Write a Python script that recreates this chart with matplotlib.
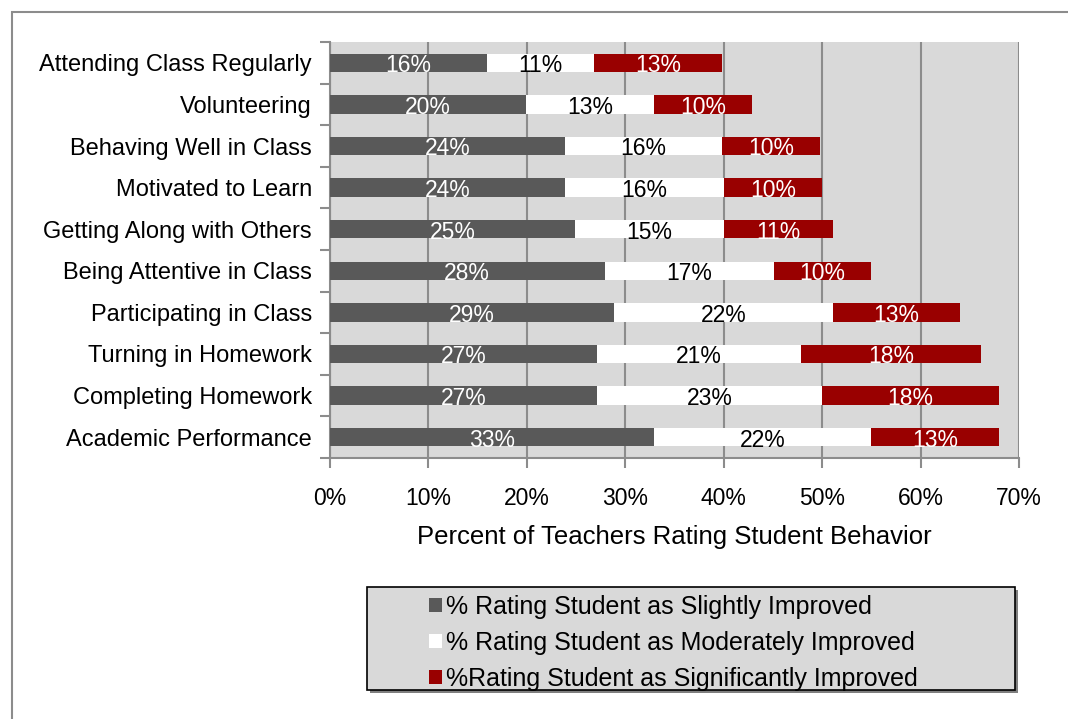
import matplotlib.pyplot as plt
from matplotlib.patches import Rectangle, Patch
import numpy as np

plt.rcParams["font.family"] = ["Liberation Sans", "DejaVu Sans"]

CATEGORIES = [
    "Attending Class Regularly", "Volunteering", "Behaving Well in Class",
    "Motivated to Learn", "Getting Along with Others", "Being Attentive in Class",
    "Participating in Class", "Turning in Homework", "Completing Homework",
    "Academic Performance",
]
SLIGHT = [15.9, 19.9, 23.9, 23.9, 24.9, 27.9, 28.9, 27.1, 27.1, 32.9]
MODERATE = [10.9, 13.0, 15.9, 16.1, 15.1, 17.2, 22.2, 20.8, 22.9, 22.1]
SIGNIF = [13.0, 10.0, 10.0, 10.0, 11.1, 9.9, 12.9, 18.2, 18.0, 13.0]
SERIES_NAMES = [
    "% Rating Student as Slightly Improved",
    "% Rating Student as Moderately Improved",
    "%Rating Student as Significantly Improved",
]
COLORS = ["#595959", "#ffffff", "#990000"]
TEXT_COLORS = ["white", "black", "white"]

W, H = 1068, 719
fig = plt.figure(figsize=(W / 100, H / 100), dpi=100)

# outer chart frame (cut off on right/bottom like the source)
fig.patches.append(Rectangle((12 / W, -0.05), 1.2, 1 - 12 / H + 0.05,
                             transform=fig.transFigure, fill=False,
                             edgecolor="#8c8c8c", linewidth=1.5))

ax = fig.add_axes([330 / W, 1 - 458 / H, (1019 - 330) / W, (458 - 42) / H])
ax.set_facecolor("#d9d9d9")

y = np.arange(len(CATEGORIES))
left = np.zeros(len(CATEGORIES))
for vals, col, tcol in zip([SLIGHT, MODERATE, SIGNIF], COLORS, TEXT_COLORS):
    vals = np.array(vals)
    ax.barh(y, vals, left=left, height=0.44, color=col, zorder=3)
    for yi, l, v in zip(y, left, vals):
        ax.text(l + v / 2, yi + 0.07, f"{round(v):d}%", ha="center", va="center",
                color=tcol, fontsize=16.5, zorder=4)
    left = left + vals

ax.set_xlim(0, 70)
ax.set_ylim(len(CATEGORIES) - 0.5, -0.5)
ax.set_xticks(np.arange(0, 71, 10))
ax.set_xticklabels([f"{t}%" for t in range(0, 71, 10)], fontsize=16.5)
ax.set_yticks(np.arange(len(CATEGORIES) + 1) - 0.5)
ax.set_yticklabels([])
ax.set_yticks(y, minor=True)
ax.set_yticklabels(CATEGORIES, minor=True, fontsize=17)
ax.tick_params(axis="y", which="minor", length=0, pad=13)
ax.tick_params(axis="y", which="major", length=7, color="#8c8c8c", width=1.5)
ax.tick_params(axis="x", length=7, color="#8c8c8c", width=1.5, pad=14)
ax.grid(True, axis="x", color="#8c8c8c", linewidth=1.5, zorder=1)
ax.set_axisbelow(True)
for s in ["top", "right"]:
    ax.spines[s].set_visible(False)
for s in ["left", "bottom"]:
    ax.spines[s].set_color("#8c8c8c")
    ax.spines[s].set_linewidth(1.5)
ax.set_xlabel("Percent of Teachers Rating Student Behavior", fontsize=18.5, labelpad=11)

# legend box
fig.patches.append(Rectangle((370 / W, 1 - 693 / H), 648 / W, 103 / H,
                             transform=fig.transFigure, facecolor="#7f7f7f",
                             edgecolor="none", zorder=0))
fig.patches.append(Rectangle((367 / W, 1 - 690 / H), 648 / W, 103 / H,
                             transform=fig.transFigure, facecolor="#d9d9d9",
                             edgecolor="black", linewidth=1.2, zorder=1))
handles = [Patch(facecolor=c, edgecolor="none") for c in COLORS]
fig.legend(handles, SERIES_NAMES, loc="upper left",
           bbox_to_anchor=(429 / W, 1 - 595 / H), frameon=False, fontsize=18,
           handlelength=0.5, handleheight=0.5, handletextpad=0.2,
           labelspacing=0.48, borderpad=0, borderaxespad=0)

fig.savefig("out.png", dpi=100, facecolor="white")
